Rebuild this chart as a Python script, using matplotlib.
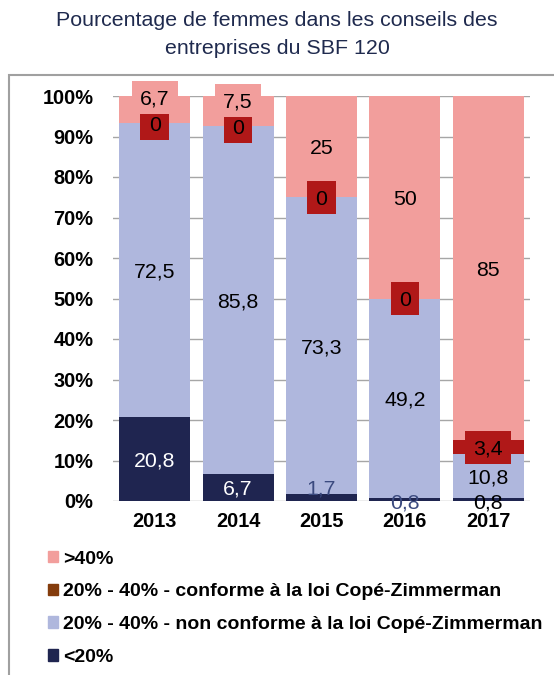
import numpy as np
import matplotlib.pyplot as plt
from matplotlib.patches import Rectangle, Patch

years = ['2013', '2014', '2015', '2016', '2017']
moins_20 = [20.8, 6.7, 1.7, 0.8, 0.8]
non_conforme = [72.5, 85.8, 73.3, 49.2, 10.8]
conforme = [0, 0, 0, 0, 3.4]
plus_40 = [6.7, 7.5, 25, 50, 85]

def fmt(v):
    return ('%g' % v).replace('.', ',')

c_navy = '#1F2550'
c_blue = '#AFB7DD'
c_red = '#B01818'
c_brown = '#843C0C'
c_pink = '#F29E9C'

plt.rcParams['font.family'] = ['Liberation Sans', 'DejaVu Sans']

fig = plt.figure(figsize=(5.54, 6.75), dpi=100)
ax = fig.add_axes([113/554, 1 - 501/675, 417/554, 405/675])

# outer frame
fig.patches.append(Rectangle((9/554, -0.1), 1.2, 1 - 75/675 + 0.1, transform=fig.transFigure,
                             fill=False, edgecolor='#A0A0A0', lw=1.5))

x = np.arange(len(years))
w = 0.85
b1 = np.array(moins_20)
b2 = b1 + np.array(non_conforme)
b3 = b2 + np.array(conforme)

ax.bar(x, moins_20, w, color=c_navy, zorder=2)
ax.bar(x, non_conforme, w, bottom=b1, color=c_blue, zorder=2)
ax.bar(x, conforme, w, bottom=b2, color=c_red, zorder=2)
ax.bar(x, plus_40, w, bottom=b3, color=c_pink, zorder=2)

ax.set_xlim(-0.5, 4.5)
ax.set_ylim(0, 100)

fs = 15.3
renderer = fig.canvas.get_renderer()
inv = ax.transData.inverted()

def boxed_label(xc, yc, s, fc, z):
    t = ax.text(xc, yc, s, ha='center', va='center_baseline', fontsize=fs, zorder=z + 0.5,
                clip_on=False)
    ext = t.get_window_extent(renderer)
    cx, cy = ax.transData.transform((xc, yc))
    x0, y0 = inv.transform((cx - ext.width / 2 - 8.3, cy - 16.5))
    x1, y1 = inv.transform((cx + ext.width / 2 + 8.3, cy + 16.5))
    ax.add_patch(Rectangle((x0, y0), x1 - x0, y1 - y0, fc=fc, ec='none', zorder=z, clip_on=False))

# <20% labels
low_y = {2: 3.4, 3: 0.0, 4: 0.0}
low_col = ['white', 'white', '#3B4A7F', '#3B4A7F', 'black']
for i, v in enumerate(moins_20):
    y = low_y.get(i, v / 2)
    ax.text(x[i], y, fmt(v), ha='center', va='center_baseline', fontsize=fs, color=low_col[i],
            zorder=5)

for i, v in enumerate(non_conforme):
    ax.text(x[i], b1[i] + v / 2, fmt(v), ha='center', va='center_baseline', fontsize=fs, zorder=5)

for i, v in enumerate(conforme):
    boxed_label(x[i], b2[i] + v / 2, fmt(v), c_red, 6)

for i, v in enumerate(plus_40):
    y = b3[i] + v / 2 if v >= 10 else b3[i] + 6.4
    boxed_label(x[i], y, fmt(v), c_pink, 8)

ax.set_yticks(np.arange(0, 101, 10))
ax.set_yticklabels(['%d%%' % t for t in range(0, 101, 10)])
ax.set_xticks(x)
ax.set_xticklabels(years)
ax.tick_params(axis='y', length=0, pad=14, labelsize=14.4)
ax.tick_params(axis='x', length=0, pad=8, labelsize=14.4)
for lab in ax.get_xticklabels() + ax.get_yticklabels():
    lab.set_fontweight('bold')
ax.grid(axis='y', color='#A6A6A6', lw=1, zorder=0)
ax.set_axisbelow(True)
for s in ax.spines.values():
    s.set_visible(False)

fig.text(0.5, 1 - 20/675, 'Pourcentage de femmes dans les conseils des', ha='center', va='center',
         fontsize=15.4, color='#1F2A4E')
fig.text(0.5, 1 - 48/675, 'entreprises du SBF 120', ha='center', va='center',
         fontsize=15.4, color='#1F2A4E')

handles = [Patch(color=c_pink), Patch(color=c_brown), Patch(color=c_blue), Patch(color=c_navy)]
labels = ['>40%', '20% - 40% - conforme à la loi Copé-Zimmerman',
          '20% - 40% - non conforme à la loi Copé-Zimmerman', '<20%']
fig.legend(handles, labels, loc='upper left', bbox_to_anchor=(30/554, 1 - 533/675),
           frameon=False, handlelength=0.55, handleheight=0.55, handletextpad=0.25,
           labelspacing=0.81, prop=dict(size=14, weight='bold'))

fig.savefig('out.png', dpi=100)
